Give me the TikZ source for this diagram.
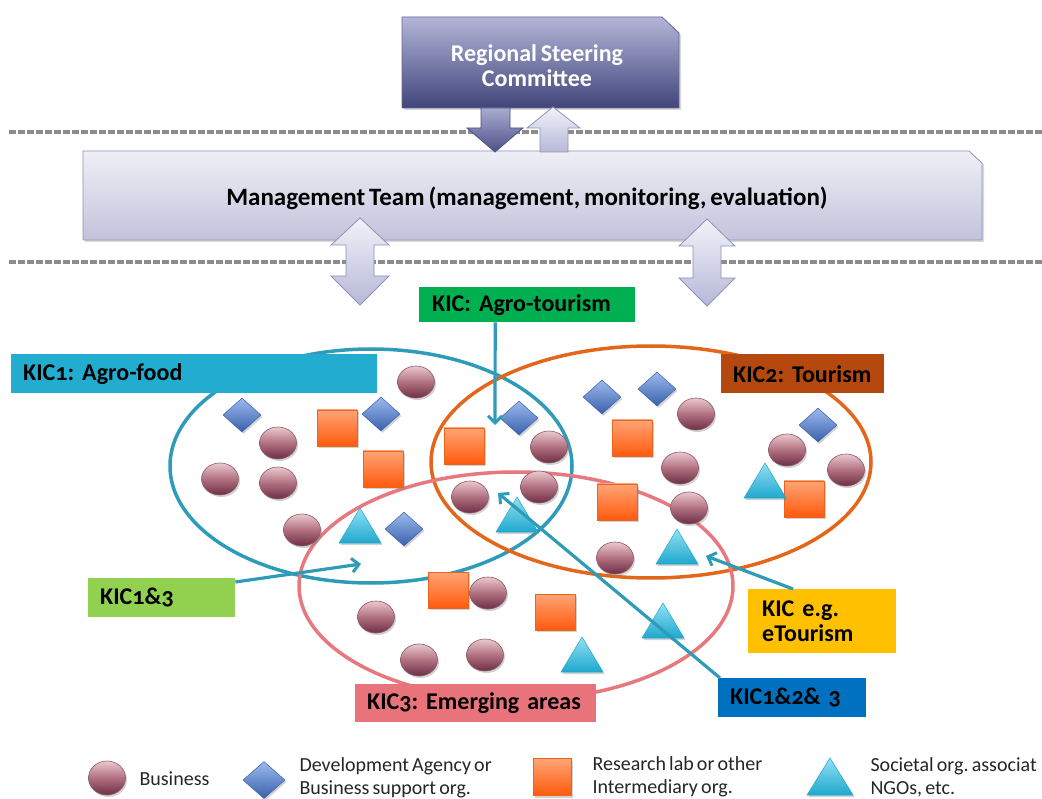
\documentclass[tikz,border=0pt]{standalone}
\usepackage{fontspec}
\setmainfont{Carlito}[WordSpace=0.7]
\newfontfamily\kicfont{Carlito}[Numbers=OldStyle,WordSpace=0.55]
\usetikzlibrary{shapes.geometric,arrows.meta,shadows,calc}
\definecolor{dashgray}{HTML}{8C8C8C}
\definecolor{steerTop}{HTML}{B3B6D8}
\definecolor{steerBot}{HTML}{40447A}
\definecolor{mgmtTop}{HTML}{EFEFF6}
\definecolor{mgmtBot}{HTML}{C2C3DB}
\definecolor{mgmtEdge}{HTML}{9092B6}
\definecolor{arrTop}{HTML}{F2F2F9}
\definecolor{arrBot}{HTML}{B6B8D8}
\definecolor{darrTop}{HTML}{A9ACD0}
\definecolor{darrBot}{HTML}{4D5188}
\definecolor{ringTeal}{HTML}{2E9CB8}
\definecolor{ringOrange}{HTML}{E4661A}
\definecolor{ringPink}{HTML}{E8787E}
\definecolor{bizTop}{HTML}{EBC8CF}
\definecolor{bizMid}{HTML}{B07080}
\definecolor{bizBot}{HTML}{6E2E44}
\definecolor{bizEdge}{HTML}{8A5A68}
\definecolor{devTop}{HTML}{9CBAEE}
\definecolor{devBot}{HTML}{3A61AC}
\definecolor{labTop}{HTML}{FFA476}
\definecolor{labBot}{HTML}{FF5A0C}
\definecolor{labEdge}{HTML}{E8651E}
\definecolor{socTop}{HTML}{92E0F4}
\definecolor{socBot}{HTML}{1FA8CE}
\definecolor{kicOneC}{HTML}{21ACD0}
\definecolor{kicTwoC}{HTML}{B4480F}
\definecolor{kicThreeC}{HTML}{E8737B}
\definecolor{agroC}{HTML}{00B050}
\definecolor{egC}{HTML}{FFC000}
\definecolor{allC}{HTML}{0070C0}
\definecolor{oneThreeC}{HTML}{92D050}
\definecolor{legText}{HTML}{262626}
\begin{document}
\frenchspacing
\begin{tikzpicture}[x=1pt,y=-1pt,
  sep/.style={draw=dashgray,line width=3.5pt,dash pattern=on 7pt off 2pt},
  ring/.style={line width=3.5pt},
  shade/.style={drop shadow={shadow xshift=1.5pt,shadow yshift=-2pt,opacity=0.35}},
  biz/.style={ellipse,minimum width=37pt,minimum height=32pt,inner sep=0pt,
    top color=bizTop,bottom color=bizBot,middle color=bizMid,draw=bizEdge,line width=0.6pt,shade},
  dev/.style={diamond,minimum width=38pt,minimum height=34pt,inner sep=0pt,
    top color=devTop,bottom color=devBot,draw=devBot,line width=0.5pt,shade},
  lab/.style={rectangle,minimum width=40pt,minimum height=36pt,inner sep=0pt,
    top color=labTop,bottom color=labBot,draw=labEdge,line width=0.6pt,shade},
  soc/.style={top color=socTop,bottom color=socBot,draw=socBot,line width=0.5pt,shade},
  kicbox/.style={rectangle,anchor=north west,inner ysep=0pt,align=left,
    font=\kicfont\bfseries\fontsize{24}{25}\selectfont,text=black},
  link/.style={draw=ringTeal,line width=3.2pt,-{Straight Barb[length=7pt,width=14pt,line width=3pt]}},
  blockarr/.style={top color=arrTop,bottom color=arrBot,draw=mgmtEdge,line width=0.8pt},
  legend/.style={anchor=west,align=left,text=legText,font=\fontsize{20}{23}\selectfont}
]
\useasboundingbox (0,0) rectangle (1042,799);
\fill[white] (0,0) rectangle (1042,799);

% separators
\draw[sep] (9,132) -- (1042,132);
\draw[sep] (9,262) -- (1042,262);

% steering committee
\path[top color=steerTop,bottom color=steerBot,draw=steerBot!80,line width=0.8pt,
  drop shadow={shadow xshift=2pt,shadow yshift=-2pt,opacity=0.3}]
  (402,17) -- (662,17) -- (679,33) -- (679,108) -- (402,108) -- cycle;
\node[text=white,align=center,font=\bfseries\fontsize{24}{25}\selectfont] (steer) at (537,66) {Regional Steering\\Committee};

% management team
\path[top color=mgmtTop,bottom color=mgmtBot,draw=mgmtEdge,line width=0.8pt,
  drop shadow={shadow xshift=2pt,shadow yshift=-2pt,opacity=0.3}]
  (83,151) -- (969,151) -- (982,163) -- (982,240) -- (83,240) -- cycle;
\node[text=black,font=\bfseries\fontsize{25}{26}\selectfont] (mgmt) at (527,198) {Management Team (management, monitoring, evaluation)};

% arrows between steering and management
\path[top color=darrTop,bottom color=darrBot,draw=darrBot,line width=0.8pt]
  (481,108) -- (510,108) -- (510,128) -- (523,128) -- (495,152) -- (467,128) -- (481,128) -- cycle;
\path[blockarr]
  (553,107) -- (580,128) -- (568,128) -- (568,152) -- (540,152) -- (540,128) -- (527,128) -- cycle;

% double arrows
\path[blockarr]
  (360,218) -- (389,245) -- (374,245) -- (374,276) -- (389,276) -- (360,305) -- (331,276) -- (346,276) -- (346,245) -- (331,245) -- cycle;
\path[blockarr]
  (707,219) -- (735,246) -- (721,246) -- (721,278) -- (735,278) -- (707,306) -- (679,278) -- (693,278) -- (693,246) -- (679,246) -- cycle;

% rings
\draw[ring,draw=ringTeal] (371,466) ellipse [x radius=201pt,y radius=117pt];
\draw[ring,draw=ringOrange] (651,462) ellipse [x radius=220pt,y radius=116pt];
\draw[ring,draw=ringPink] (516,586) ellipse [x radius=217pt,y radius=114pt];

% businesses
\foreach \p [count=\i] in {(416,382),(278,443),(220,479),(278,483),(302,530),(470,497),(488,593),(376,617),(419,660),(485,655),(549,447),(539,487),(696,414),(680,468),(689,508),(615,558),(787,450),(846,470)}
  \node[biz] (b\i) at \p {};
% development agencies
\foreach \p [count=\i] in {(242,415),(381,414),(404,529),(519,418),(602,397),(657,389),(818,425)}
  \node[dev] (d\i) at \p {};
% research labs
\foreach \p [count=\i] in {(337,428),(383,469),(464,446),(448,590),(632,438),(617,502),(804,499),(555,612)}
  \node[lab] (r\i) at \p {};
% societal organisations
\foreach \x/\a in {360/508,517/497,677/529,765/463,663/603,582/637}
  \path[soc] (\x-21,\a+35) -- (\x,\a) -- (\x+21,\a+35) -- cycle;

% labels
\node[kicbox,fill=kicOneC,inner xsep=12pt,text width=342pt,minimum height=39pt] (kic1) at (11,354) {KIC1: Agro-food};
\node[kicbox,fill=kicTwoC,inner xsep=12pt,text width=139pt,minimum height=39pt] (kic2) at (721,354) {KIC2: Tourism};
\node[kicbox,fill=agroC,inner xsep=13pt,text width=190pt,minimum height=35pt] (agro) at (419,287) {KIC: Agro-tourism};
\node[kicbox,fill=egC,inner xsep=14pt,text width=120pt,minimum height=64pt] (eg) at (748,589) {KIC e.g.\\eTourism};
\node[kicbox,fill=allC,inner xsep=12pt,text width=124pt,minimum height=39pt] (k123) at (718,678) {KIC1\&2\& 3};
\node[kicbox,fill=kicThreeC,inner xsep=12pt,text width=217pt,minimum height=38pt] (kic3) at (355,684) {KIC3: Emerging areas};
\node[kicbox,fill=oneThreeC,inner xsep=12pt,text width=123pt,minimum height=39pt] (kic13) at (88,578) {KIC1\&3};

% pointers
\coordinate (pAgro) at (495,425);
\coordinate (pOneThree) at (361,564);
\coordinate (pEg) at (706,556);
\coordinate (pAll) at (498,493);
\draw[link] ([xshift=-32pt]agro.south) -- (pAgro);
\draw[link] ([yshift=-4pt]kic13.north east) -- (pOneThree);
\draw[link] ([xshift=45pt]eg.north west) -- (pEg);
\draw[link] ([xshift=2pt]k123.north west) -- (pAll);

% legend
\node[biz,minimum width=37pt,minimum height=34pt] (lb) at (107,778) {};
\node[legend] (lbt) at (136,779) {Business};
\node[dev,minimum width=42pt,minimum height=37pt] (ld) at (264,780) {};
\node[legend] (ldt) at (296,778) {Development Agency or\\Business support org.};
\node[lab,minimum width=38pt,minimum height=37pt] (ll) at (552,777) {};
\node[legend] (llt) at (589,777) {Research lab or other\\Intermediary org.};
\path[soc] (807,795) -- (830,758) -- (853,795) -- cycle;
\node[legend] (lst) at (867,777) {Societal org. associat\\NGOs, etc.};
\end{tikzpicture}
\end{document}
